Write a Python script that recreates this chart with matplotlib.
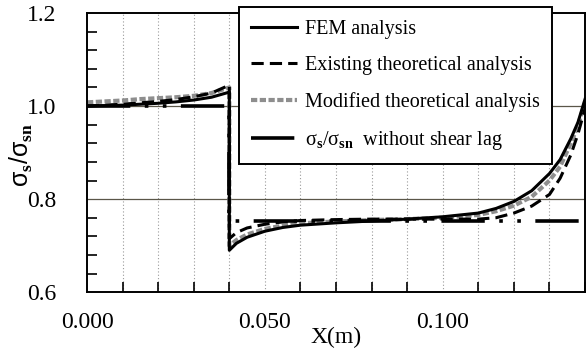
import numpy as np
import matplotlib.pyplot as plt
from matplotlib.ticker import MultipleLocator, FixedLocator

# Values (X in m, stress ratio)
x_left = [0.0, 0.005, 0.01, 0.015, 0.02, 0.025, 0.03, 0.035, 0.04]
x_right = [0.04, 0.042, 0.045, 0.05, 0.055, 0.06, 0.07, 0.08, 0.09, 0.10,
           0.11, 0.115, 0.12, 0.125, 0.13, 0.133, 0.136, 0.138, 0.14]

fem_left = [1.000, 1.001, 1.002, 1.004, 1.006, 1.009, 1.013, 1.019, 1.030]
fem_right = [0.690, 0.705, 0.718, 0.731, 0.739, 0.744, 0.749, 0.753, 0.757, 0.762,
             0.770, 0.780, 0.795, 0.818, 0.855, 0.885, 0.930, 0.965, 1.015]

existing_left = [1.000, 1.002, 1.004, 1.007, 1.010, 1.014, 1.020, 1.028, 1.045]
existing_right = [0.715, 0.728, 0.738, 0.746, 0.751, 0.754, 0.756, 0.757, 0.757, 0.757,
                  0.757, 0.760, 0.770, 0.785, 0.810, 0.845, 0.895, 0.940, 0.995]

modified_left = [1.008, 1.010, 1.012, 1.015, 1.017, 1.019, 1.022, 1.028, 1.040]
modified_right = [0.700, 0.712, 0.724, 0.736, 0.743, 0.748, 0.752, 0.755, 0.757, 0.760,
                  0.766, 0.774, 0.786, 0.805, 0.840, 0.870, 0.920, 0.958, 1.008]

no_lag_x = [0.0, 0.04, 0.04, 0.14]
no_lag_y = [1.0, 1.0, 0.752, 0.752]

labels = ['FEM analysis', 'Existing theoretical analysis',
          'Modified theoretical analysis',
          r'σ$_\mathrm{s}$/σ$_\mathrm{sn}$  without shear lag']

plt.rcParams['font.family'] = ['Liberation Serif', 'DejaVu Serif']
plt.rcParams['mathtext.fontset'] = 'custom'
plt.rcParams['mathtext.rm'] = 'Liberation Serif:bold'

fig = plt.figure(figsize=(5.88, 3.52), dpi=100)
ax = fig.add_axes([0.148, 0.170, 0.847, 0.793])

x_all = x_left + x_right

# grid: dotted verticals every 0.01, solid horizontals every 0.2
for xv in np.arange(0.01, 0.14, 0.01):
    ax.axvline(xv, color='#9a9a9a', lw=0.8, ls=(0, (1, 2)), zorder=1)
for yv in [0.8, 1.0]:
    ax.axhline(yv, color='#5a5648', lw=0.9, zorder=1)

l_mod, = ax.plot(x_all, modified_left + modified_right, color='#8e8e8e',
                 lw=3.0, ls=(0, (1.5, 0.6)), zorder=2)
l_nolag, = ax.plot(no_lag_x, no_lag_y, color='black', lw=2.6,
                   ls=(0, (12, 4, 1, 4, 1, 4)), zorder=3)
l_exist, = ax.plot(x_all, existing_left + existing_right, color='black',
                   lw=2.2, ls=(0, (4, 2)), zorder=4)
l_fem, = ax.plot(x_all, fem_left + fem_right, color='black', lw=2.2, zorder=5)

ax.set_xlim(0, 0.14)
ax.set_ylim(0.6, 1.2)

ax.xaxis.set_major_locator(FixedLocator([0.0, 0.05, 0.10]))
ax.xaxis.set_minor_locator(MultipleLocator(0.01))
ax.set_xticklabels(['0.000', '0.050', '0.100'])
ax.yaxis.set_major_locator(FixedLocator([0.6, 0.8, 1.0, 1.2]))
ax.yaxis.set_minor_locator(FixedLocator(np.arange(0.6, 1.201, 0.04)))
ax.set_yticklabels(['0.6', '0.8', '1.0', '1.2'])

ax.tick_params(which='both', direction='in', length=7, width=1.2, labelsize=17)
ax.tick_params(axis='x', which='major', length=0, pad=14)
ax.tick_params(axis='y', which='major', length=0, pad=22)

for s in ax.spines.values():
    s.set_linewidth(1.4)

ax.set_xlabel('X(m)', fontsize=17)
ax.xaxis.set_label_coords(0.5, -0.125)
ax.set_ylabel('σ$_\\mathrm{s}$/σ$_\\mathrm{sn}$', fontsize=18,
              family=['Liberation Sans', 'DejaVu Sans'])
ax.yaxis.set_label_coords(-0.105, 0.49)

leg = ax.legend([l_fem, l_exist, l_mod, l_nolag], labels,
                loc='upper left', bbox_to_anchor=(0.305, 1.02),
                fontsize=14.5, handlelength=2.3, handletextpad=0.4,
                labelspacing=0.85, borderpad=0.6, fancybox=False,
                framealpha=1, edgecolor='black', borderaxespad=0)
leg.get_frame().set_linewidth(1.4)
leg.set_zorder(10)

fig.savefig('out.png', dpi=100)
